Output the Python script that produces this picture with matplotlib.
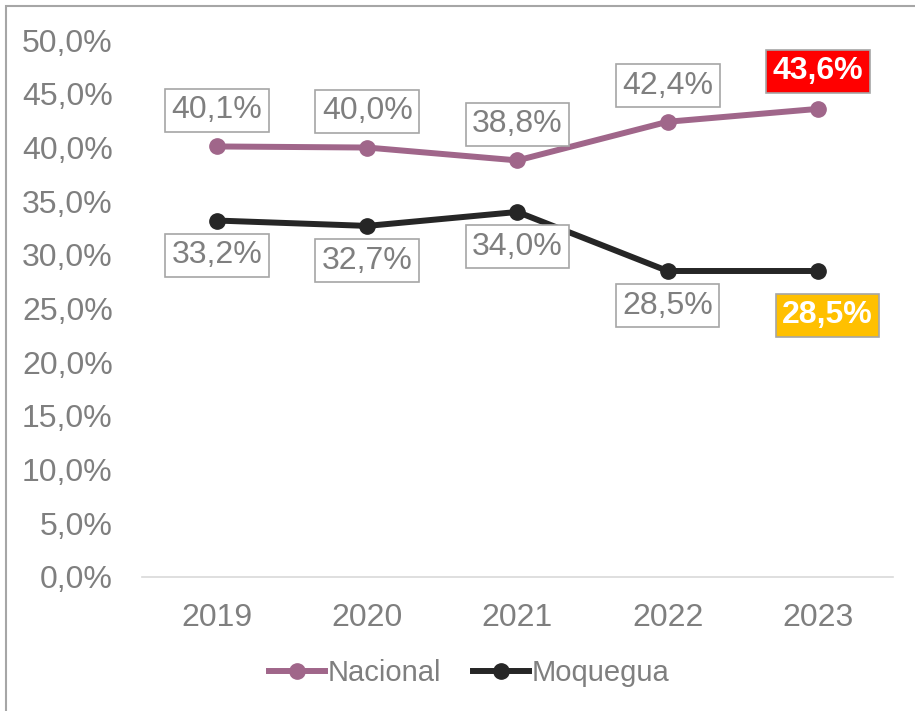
import matplotlib.pyplot as plt
from matplotlib.patches import Rectangle
from matplotlib.ticker import FuncFormatter

plt.rcParams['font.family'] = ['Liberation Sans', 'DejaVu Sans']

years = ['2019', '2020', '2021', '2022', '2023']
nacional = [40.1, 40.0, 38.8, 42.4, 43.6]
moquegua = [33.2, 32.7, 34.0, 28.5, 28.5]

c_nac = '#A0668A'
c_moq = '#262626'
gray_txt = '#7F7F7F'

def pct(v):
    return f'{v:.1f}%'.replace('.', ',')

fig = plt.figure(figsize=(9.15, 7.11), dpi=100)
ax = fig.add_axes([0.155, 0.1885, 0.821, 0.755])

x = list(range(len(years)))
ax.plot(x, nacional, color=c_nac, lw=4.3, marker='o', ms=11, label='Nacional')
ax.plot(x, moquegua, color=c_moq, lw=4.3, marker='o', ms=11, label='Moquegua')

ax.set_xlim(-0.5, 4.5)
ax.set_ylim(0, 50)
ax.set_yticks(range(0, 51, 5))
ax.yaxis.set_major_formatter(FuncFormatter(lambda v, p: pct(v)))
ax.set_xticks(x)
ax.set_xticklabels(years)
ax.tick_params(axis='both', length=0, labelsize=23, labelcolor=gray_txt, pad=19)
ax.tick_params(axis='y', pad=21)
for s in ['top', 'right', 'left']:
    ax.spines[s].set_visible(False)
ax.spines['bottom'].set_color('#D9D9D9')
ax.spines['bottom'].set_linewidth(1.2)

plain = dict(boxstyle='square,pad=0.2', fc='white', ec='#A6A6A6', lw=1.2)
for i, v in enumerate(nacional):
    if i == len(nacional) - 1:
        ax.annotate(pct(v), (i, v), xytext=(0, 27), textcoords='offset points',
                    ha='center', va='center', fontsize=23, color='white', fontweight='bold',
                    bbox=dict(boxstyle='square,pad=0.2', fc='#FF0000', ec='#A6A6A6', lw=1.2))
    else:
        ax.annotate(pct(v), (i, v), xytext=(0, 26), textcoords='offset points',
                    ha='center', va='center', fontsize=23, color=gray_txt, bbox=plain)
for i, v in enumerate(moquegua):
    if i == len(moquegua) - 1:
        ax.annotate(pct(v), (i, v), xytext=(7, -32), textcoords='offset points',
                    ha='center', va='center', fontsize=23, color='white', fontweight='bold',
                    bbox=dict(boxstyle='square,pad=0.2', fc='#FFC000', ec='#A6A6A6', lw=1.2))
    else:
        ax.annotate(pct(v), (i, v), xytext=(0, -25), textcoords='offset points',
                    ha='center', va='center', fontsize=23, color=gray_txt, bbox=plain)

leg = fig.legend(loc='center', bbox_to_anchor=(0.513, 0.053), ncol=2, frameon=False,
                 fontsize=21, handlelength=1.9, handletextpad=0.1, columnspacing=1.1)
for t in leg.get_texts():
    t.set_color(gray_txt)

fig.patches.append(Rectangle((6 / 915, -0.1), 1.2, 1.1 - 6 / 711, transform=fig.transFigure,
                             fill=False, ec='#A6A6A6', lw=1.5))

fig.savefig('out.png', dpi=100)
